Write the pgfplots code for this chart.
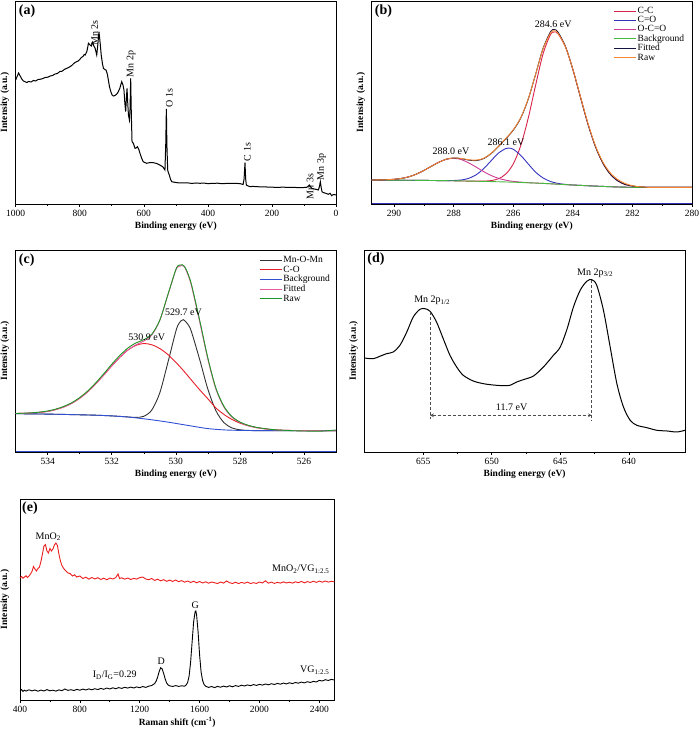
\documentclass[border=0pt]{standalone}
\usepackage{pgfplots}
\pgfplotsset{compat=1.18}
\usepackage{fontspec}
\setmainfont{Liberation Serif}
\definecolor{cCC}{RGB}{215,35,75}
\definecolor{cCO}{RGB}{50,50,190}
\definecolor{cOCO}{RGB}{205,60,150}
\definecolor{cBG}{RGB}{70,185,60}
\definecolor{cFit}{RGB}{20,20,60}
\definecolor{cRaw}{RGB}{245,135,50}
\definecolor{dK}{RGB}{50,50,50}
\definecolor{dR}{RGB}{230,30,40}
\definecolor{dB}{RGB}{50,80,210}
\definecolor{dP}{RGB}{230,90,160}
\definecolor{dG}{RGB}{30,150,40}
\definecolor{eR}{RGB}{235,30,30}
\begin{document}
\begin{tikzpicture}
\useasboundingbox (0pt,0pt) rectangle (700pt,732pt);
\pgfplotsset{
  every axis/.append style={
    scale only axis, anchor=south west,
    axis line style={line width=0.7pt},
    ytick=\empty,
    xtick pos=left,
    tick align=outside,
    major tick length=3pt, minor tick length=2pt,
    every tick/.style={black, line width=0.6pt},
    tick label style={font=\fontsize{9.5}{11}\selectfont},
    label style={font=\bfseries\fontsize{9.5}{11}\selectfont},
    /pgf/number format/assume math mode=true,
    /pgf/number format/1000 sep={},
    xlabel style={at={(axis description cs:0.5,0)}, anchor=center, yshift=-22.5pt},
    ylabel style={at={(axis description cs:-0.009,0.5)}, anchor=south},
    minor tick num=1,
  },
}
% ---------------- (a)
\begin{axis}[at={(15.7pt,528pt)}, width=320.3pt, height=203pt,
  xmin=0, xmax=1000, x dir=reverse, ymin=0, ymax=203,
  xtick={0,200,400,600,800,1000},
  xlabel={Binding energy (eV)}, ylabel={Intensity (a.u.)}]
\addplot[black, line width=1pt] coordinates {
(1000,124)(995,128)(991,131)(986,128)(981,125)(976,123)(971,122.3)(965,121.5)(960,122.5)(952,122)(945,123.5)(938,123)(930,124.5)(922,124.8)(915,125.5)(908,126.5)(900,126.8)(892,128)(885,128.5)(877,130)(870,130.5)(862,132.5)(855,132.8)(847,134.8)(840,135.7)(832,137)(825,138.5)(817,141)(810,142.3)(805,143)(800,144.5)(795,146.5)(790,147.5)(786,149.5)(783,149)(778,152.3)(775,157)(773,160.7)(768,159)(764,158)(760,161.7)(756,158)(752,155.7)(747,149)(744,158)(740,172.3)(736,160)(733,149)(729,140)(726,135.7)(722,134.5)(718,134)(714,130)(710.7,124)(707,117)(703,112.3)(699,109)(695,108)(690,108.5)(685,109.7)(680,112)(675,115.7)(669,122.3)(665,119)(662,114)(659,100)(656.6,92.3)(654,108)(652.4,115.7)(650,100)(648,89)(645,84)(643,95)(641,125.7)(639,90)(636.8,62.3)(632.7,60.7)(627.5,55.7)(624,56)(620.2,57.3)(616,55)(612,50.7)(607,46)(602,42.3)(597,41.5)(591,40.7)(580,41.5)(570,41.3)(560,40.5)(550,39)(540,37)(534,34)(531.5,60)(529.6,95)(528,60)(525.5,34)(523,31)(520.3,29)(517,25)(513,22.3)(505,21.8)(497,21.3)(480,21.0)(465,21.2)(450,20.6)(437,21)(424.5,20.7)(412,20.9)(400,20.4)(385,20.6)(370,20.8)(355,20.3)(340,20.6)(320.5,20.7)(300,20.4)(290,19.5)(287,25)(284.1,41.3)(282,25)(279.9,19)(274,18)(268.5,17.3)(260,17.6)(250,17.4)(235,17.1)(216.4,17)(200,16.8)(180,16.6)(165,16.9)(150,16.5)(130,16.6)(112.4,16.3)(100,16.5)(91.5,16.7)(86,18)(83.3,19)(79,17)(76,15.7)(68,15)(60,14.5)(55.1,14)(52,17)(48.9,22.3)(46,16)(43.7,12.3)(40,11.5)(35,11)(30,10.5)(24.1,9.7)(21,10.3)(18.7,10.7)(16,9.5)(13.5,8.3)(10,9.2)(6,9.5)(0,9)};
\node[rotate=90, font=\fontsize{10}{12}\selectfont] at (axis cs:754,171) {Mn 2s};
\node[rotate=90, font=\fontsize{10}{12}\selectfont] at (axis cs:640,140) {Mn 2p};
\node[rotate=90, font=\fontsize{10}{12}\selectfont] at (axis cs:520,106) {O 1s};
\node[rotate=90, font=\fontsize{10}{12}\selectfont] at (axis cs:277,52) {C 1s};
\node[rotate=90, font=\fontsize{10}{12}\selectfont] at (axis cs:81,17.3) {Mn 3s};
\node[rotate=90, font=\fontsize{10}{12}\selectfont] at (axis cs:45,37) {Mn 3p};
\node[anchor=north west, inner sep=0pt, font=\bfseries\fontsize{14}{16}\selectfont] at (axis description cs:0,1) [xshift=3pt, yshift=-4pt] {(a)};
\end{axis}
% ---------------- (b)
\begin{axis}[at={(371.7pt,528pt)}, width=320.3pt, height=203pt,
  xmin=280, xmax=290.75, x dir=reverse, ymin=0, ymax=203,
  xtick={280,282,284,286,288,290},
  xlabel={Binding energy (eV)}, ylabel={Intensity (a.u.)},
  legend style={at={(0.755,0.975)}, anchor=north west, draw=none, fill=none,
    font=\fontsize{9.5}{11}\selectfont, inner xsep=0pt, inner ysep=0pt, row sep=-0.6pt,
    nodes={inner sep=1pt}},
  legend cell align=left,
  legend image code/.code={\draw[#1, line width=1pt] (0pt,0pt) -- (22pt,0pt);}]
\addplot[cCC, line width=0.9pt, smooth] coordinates {
(290.75,24.0)(289,23.6)(288,23.2)(287.5,22.9)(287.25,22.9)(287.0,22.9)(286.75,23.4)(286.5,25.2)(286.25,29.9)(286.0,40.0)(285.75,58.2)(285.5,85.4)(285.25,118.6)(285.0,150.0)(284.75,169.4)(284.62,172.0)(284.5,170.3)(284.25,157.3)(284.0,134.7)(283.75,107.5)(283.5,80.7)(283.25,58.1)(283.0,41.3)(282.75,30.1)(282.5,23.3)(282.25,19.6)(282.0,17.9)(281.75,17.1)(281.5,16.7)(281,16.6)(280,16.6)};
\addlegendentry{C-C}
\addplot[cCO, line width=0.9pt, smooth] coordinates {
(290.75,24.0)(289,23.6)(288.5,23.4)(288.25,23.4)(288.0,23.5)(287.75,24.0)(287.5,25.6)(287.25,29.1)(287.0,35.1)(286.75,43.0)(286.5,50.8)(286.25,55.5)(286.15,55.9)(286.0,54.8)(285.75,48.7)(285.5,40.2)(285.25,31.9)(285.0,26.1)(284.75,22.5)(284.5,20.6)(284.25,19.6)(284.0,19.0)(283,17.6)(282,16.7)(280,16.6)};
\addlegendentry{C=O}
\addplot[cOCO, line width=0.9pt, smooth] coordinates {
(290.75,24.05)(290.5,24.1)(290.25,24.3)(290.0,24.7)(289.75,25.6)(289.5,27.2)(289.25,29.9)(289.0,33.5)(288.75,37.7)(288.5,41.7)(288.25,44.7)(288.0,45.7)(287.75,44.5)(287.5,41.2)(287.25,37.0)(287.0,32.5)(286.75,28.6)(286.5,25.7)(286.25,23.8)(286.0,22.6)(285.75,21.9)(285.5,21.3)(285.0,20.6)(284,19.0)(283,17.6)(282,16.7)(280,16.6)};
\addlegendentry{O-C=O}
\addplot[cBG, line width=0.9pt, smooth] coordinates {
(290.75,24.0)(290,23.9)(289,23.6)(288,23.2)(287,22.6)(286,21.8)(285,20.6)(284.5,19.8)(284,19.0)(283.5,18.2)(283,17.6)(282.5,17.0)(282,16.7)(281,16.6)(280,16.6)};
\addlegendentry{Background}
\addplot[cFit, line width=0.9pt, smooth] coordinates {
(290.75,24.0)(290.5,24.1)(290.25,24.3)(290.0,24.7)(289.75,25.6)(289.5,27.2)(289.25,29.9)(289.0,33.5)(288.75,37.7)(288.5,41.7)(288.25,44.8)(288.0,46.0)(287.75,45.4)(287.5,43.9)(287.25,43.4)(287.0,45.3)(286.75,50.2)(286.5,57.3)(286.25,65.2)(286.0,73.8)(285.75,85.8)(285.5,104.5)(285.25,129.6)(285.0,155.5)(284.75,172.2)(284.62,174.5)(284.5,172.0)(284.25,157.8)(284.0,134.7)(283.75,107.5)(283.5,80.7)(283.25,58.1)(283.0,41.3)(282.75,30.1)(282.5,23.3)(282.25,19.6)(282.0,17.9)(281.75,17.1)(281.5,16.7)(281.0,16.6)(280.5,16.6)(280.0,16.6)};
\addlegendentry{Fitted}
\addplot[cRaw, line width=0.9pt, smooth] coordinates {
(290.75,24.0)(290.5,24.1)(290.25,24.3)(290.0,24.7)(289.75,25.6)(289.5,27.2)(289.25,29.9)(289.0,33.5)(288.75,37.7)(288.5,41.7)(288.25,44.8)(288.0,46.0)(287.75,45.6)(287.5,44.3)(287.25,43.9)(287.0,45.6)(286.75,50.5)(286.5,57.6)(286.25,65.6)(286.0,74.2)(285.75,86.2)(285.5,104.8)(285.25,129.6)(285.0,155.0)(284.75,171.0)(284.62,173.2)(284.5,170.8)(284.25,157.3)(284.0,134.9)(283.75,108.0)(283.5,81.5)(283.25,59.0)(283.0,42.4)(282.75,31.4)(282.5,24.6)(282.25,20.6)(282.0,18.3)(281.75,17.2)(281.5,16.7)(281.0,16.6)(280.5,16.6)(280.0,16.6)};
\addlegendentry{Raw}
\addplot[cCO, line width=0.8pt, forget plot] coordinates {(290.75,0.3)(280,0.3)};
\node[font=\fontsize{10}{12}\selectfont] at (axis cs:284.66,180) {284.6 eV};
\node[font=\fontsize{10}{12}\selectfont] at (axis cs:286.24,61.3) {286.1 eV};
\node[font=\fontsize{10}{12}\selectfont] at (axis cs:288.09,53) {288.0 eV};
\node[anchor=north west, inner sep=0pt, font=\bfseries\fontsize{14}{16}\selectfont] at (axis description cs:0,1) [xshift=3pt, yshift=-4pt] {(b)};
\end{axis}
% ---------------- (c)
\begin{axis}[at={(15.7pt,280pt)}, width=320.3pt, height=202pt,
  xmin=525, xmax=535, x dir=reverse, ymin=0, ymax=202,
  xtick={526,528,530,532,534},
  xlabel={Binding energy (eV)}, ylabel={Intensity (a.u.)},
  legend style={at={(0.76,0.975)}, anchor=north west, draw=none, fill=none,
    font=\fontsize{9.5}{11}\selectfont, inner xsep=0pt, inner ysep=0pt, row sep=-0.3pt,
    nodes={inner sep=1pt}},
  legend cell align=left,
  legend image code/.code={\draw[#1, line width=1pt] (0pt,0pt) -- (22pt,0pt);}]
\addplot[dK, line width=0.9pt, smooth] coordinates {
(535,38.3)(534,37.9)(533,37.2)(532.5,36.8)(532,36.1)(531.75,35.6)(531.5,35.05)(531.25,34.6)(531.0,35.7)(530.75,42.0)(530.5,59.3)(530.25,89.3)(530.0,120.7)(529.9,128.7)(529.77,132.3)(529.6,126.6)(529.5,119.0)(529.25,91.8)(529.0,62.8)(528.75,41.4)(528.5,29.4)(528.25,24.1)(528.0,22.2)(527.75,21.6)(527.5,21.4)(527,21.3)(525,21.3)};
\addlegendentry{Mn-O-Mn}
\addplot[dR, line width=0.9pt, smooth] coordinates {
(535.0,38.5)(534.75,38.65)(534.5,39.0)(534.25,39.6)(534.0,40.6)(533.75,42.4)(533.5,45.0)(533.25,48.7)(533.0,53.8)(532.75,60.3)(532.5,68.2)(532.25,77.0)(532.0,86.1)(531.75,94.7)(531.5,101.9)(531.25,106.6)(531.0,108.5)(530.75,107.2)(530.5,103.4)(530.25,97.5)(530.0,89.7)(529.75,80.9)(529.5,71.4)(529.25,62.0)(529.0,53.2)(528.75,44.1)(528.5,37.6)(528.25,32.6)(528.0,28.9)(527.75,26.3)(527.5,24.5)(527.25,23.25)(527.0,22.4)(526.75,21.9)(526.5,21.6)(526.0,21.4)(525,21.3)};
\addlegendentry{C-O}
\addplot[dB, line width=0.9pt, smooth] coordinates {
(535,38.3)(534.5,38.1)(534,37.9)(533.5,37.6)(533,37.2)(532.5,36.8)(532,36.1)(531.5,35.0)(531,33.2)(530.5,31.1)(530,28.6)(529.5,25.9)(529,23.4)(528.5,22.1)(528,21.6)(527.5,21.4)(527,21.3)(526,21.3)(525,21.3)};
\addlegendentry{Background}
\addplot[dP, line width=0.9pt, smooth] coordinates {
(535,38.5)(534.75,38.7)(534.5,39.0)(534.25,39.6)(534,40.6)(533.75,42.4)(533.5,45.0)(533.25,48.7)(533,53.8)(532.75,60.3)(532.5,68.2)(532.25,77.0)(532,86.1)(531.75,94.7)(531.5,101.9)(531.25,107.1)(531,111.0)(530.75,117.0)(530.5,131.6)(530.25,156.9)(530,181.8)(529.9,185.5)(529.75,185.9)(529.6,175.3)(529.5,164.5)(529.25,129.2)(529,92.6)(528.75,62.9)(528.5,44.9)(528.25,34.9)(528,29.5)(527.75,26.4)(527.5,24.5)(527.25,23.3)(527,22.4)(526.75,21.9)(526.5,21.6)(526.25,21.45)(526,21.4)(525.5,21.3)(525,21.3)};
\addlegendentry{Fitted}
\addplot[dG, line width=0.9pt, smooth] coordinates {
(535,38.5)(534.75,38.8)(534.5,39.2)(534.25,39.9)(534,41.0)(533.75,42.9)(533.5,45.6)(533.25,49.3)(533,54.5)(532.75,61.1)(532.5,69.2)(532.25,78.3)(532,87.8)(531.75,96.5)(531.5,103.9)(531.25,109.0)(531,112.3)(530.75,117.8)(530.5,132.0)(530.25,157.2)(530,182.5)(529.9,186.8)(529.8,187.3)(529.7,184.0)(529.6,176.5)(529.5,166.0)(529.25,131.0)(529,94.0)(528.75,64.0)(528.5,45.8)(528.25,35.5)(528,30.0)(527.75,26.8)(527.5,24.8)(527.25,23.5)(527,22.5)(526.75,21.9)(526.5,21.5)(526.25,21.2)(526,21.0)(525.5,20.8)(525.25,21.3)(525,22.0)};
\addlegendentry{Raw}
\addplot[dB, line width=0.8pt, forget plot] coordinates {(535,0.3)(525,0.3)};
\node[font=\fontsize{10}{12}\selectfont] at (axis cs:529.76,140) {529.7 eV};
\node[font=\fontsize{10}{12}\selectfont] at (axis cs:530.91,114.3) {530.9 eV};
\node[anchor=north west, inner sep=0pt, font=\bfseries\fontsize{14}{16}\selectfont] at (axis description cs:0,1) [xshift=3pt, yshift=-4pt] {(c)};
\end{axis}
% ---------------- (d)
\begin{axis}[at={(364.3pt,280pt)}, width=320.7pt, height=202pt,
  xmin=635.9, xmax=659.3, x dir=reverse, ymin=0, ymax=202,
  xtick={640,645,650,655},
  xlabel={Binding energy (eV)}, ylabel={Intensity (a.u.)}]
\addplot[black, line width=1pt, smooth] coordinates {
(659.3,94)(658.65,93.3)(658.17,95.7)(657.68,98.3)(657.19,100)(656.7,106.7)(656.2,120)(655.73,135)(655.24,142.7)(654.88,143.3)(654.5,140.7)(654.03,130)(653.54,113.3)(653.05,96.7)(652.56,85)(652.08,76.7)(651.35,71)(650.6,68.3)(649.9,67)(649.16,66.3)(648.67,66.7)(648.18,70)(647.7,72.3)(646.96,76)(646.23,85)(645.5,96.7)(645.0,105)(644.5,123.3)(644.04,145)(643.55,161.7)(643.07,170.7)(642.7,172.3)(642.34,166.7)(641.85,141.7)(641.36,105)(640.87,68.3)(640.39,45)(639.9,31.7)(639.41,26.7)(638.68,24.3)(637.95,21.7)(637.2,21)(636.5,20)(635.9,21.7)};
\draw[densely dashed, line width=0.8pt, black!70] (axis cs:654.5,140) -- (axis cs:654.5,33.3);
\draw[densely dashed, line width=0.8pt, black!70] (axis cs:642.7,171.7) -- (axis cs:642.7,31);
\draw[densely dashed, line width=0.7pt, black!70, <->, >=stealth] (axis cs:654.5,36.7) -- (axis cs:642.7,36.7);
\node[font=\fontsize{10}{12}\selectfont] at (axis cs:648.55,45) {11.7 eV};
\node[font=\fontsize{10}{12}\selectfont] at (axis cs:654.34,151.7) {Mn 2p\textsubscript{1/2}};
\node[font=\fontsize{10}{12}\selectfont] at (axis cs:642.46,179) {Mn 2p\textsubscript{3/2}};
\node[anchor=north west, inner sep=0pt, font=\bfseries\fontsize{14}{16}\selectfont] at (axis description cs:0,1) [xshift=3pt, yshift=-3pt] {(d)};
\end{axis}
% ---------------- (e)
\begin{axis}[at={(20pt,32pt)}, width=314.3pt, height=201pt,
  xmin=400, xmax=2500, ymin=0, ymax=201,
  xtick={400,800,1200,1600,2000,2400},
  xlabel={Raman shift (cm\textsuperscript{-1})}, ylabel={Intensity (a.u.)},
  ylabel style={at={(axis description cs:-0.023,0.5)}, anchor=south}]
\addplot[eR, line width=0.9pt] coordinates {
(400,122.0)(410,123.5)(420,121.8)(430,123.0)(440,124.2)(450,122.5)(460,124.0)(470,126.0)(480,128.5)(490,133.5)(500,131.0)(510,129.0)(520,131.5)(530,133.0)(540,138.5)(550,146.0)(560,154.0)(570,155.5)(580,149.0)(590,147.0)(600,151.5)(610,149.0)(620,151.0)(630,155.0)(640,157.0)(650,154.5)(660,146.0)(670,139.0)(680,134.5)(690,132.0)(700,130.0)(710,128.5)(720,127.0)(735,126.5)(750,124.0)(765,125.2)(780,123.0)(800,124.0)(820,121.5)(840,122.8)(860,120.9)(880,122.5)(900,121.0)(920,122.3)(940,120.5)(960,121.8)(980,120.2)(1000,122.0)(1020,121.0)(1040,122.5)(1055,126.0)(1065,121.5)(1080,122.2)(1100,120.8)(1120,122.0)(1140,120.5)(1160,121.6)(1180,120.9)(1200,122.4)(1220,123.0)(1240,121.0)(1260,120.3)(1280,121.5)(1300,119.6)(1320,120.8)(1340,119.2)(1360,120.3)(1380,118.7)(1400,119.9)(1420,118.5)(1440,120.0)(1460,118.3)(1480,119.4)(1500,117.8)(1520,119.0)(1540,117.5)(1560,118.8)(1580,117.2)(1600,118.5)(1620,117.0)(1640,118.2)(1660,116.8)(1680,118.0)(1700,117.2)(1720,116.5)(1740,118.0)(1760,116.9)(1780,119.0)(1800,117.3)(1820,116.5)(1840,117.8)(1860,116.4)(1880,117.6)(1900,116.7)(1920,117.9)(1940,116.5)(1960,117.3)(1980,116.6)(2000,118.0)(2020,117.0)(2040,119.2)(2060,116.8)(2080,117.9)(2100,116.6)(2120,117.7)(2140,116.9)(2160,118.1)(2180,117.0)(2200,117.8)(2220,116.9)(2240,118.2)(2260,117.3)(2280,118.6)(2300,117.1)(2320,118.4)(2340,117.5)(2360,118.8)(2380,117.6)(2400,118.9)(2420,117.8)(2440,119.0)(2460,117.9)(2480,118.7)(2500,118.2)};
\addplot[black, line width=0.9pt] coordinates {
(400,9.0)(410,10.5)(420,8.6)(430,9.8)(440,8.9)(460,10.2)(480,9.1)(500,10.0)(520,8.8)(540,9.9)(560,9.0)(580,10.4)(600,9.2)(620,9.8)(640,8.9)(660,10.1)(680,9.3)(700,11.0)(720,9.6)(740,10.3)(760,9.5)(780,10.6)(800,9.8)(820,10.9)(840,10.0)(860,11.1)(880,10.2)(900,11.3)(920,10.4)(940,11.6)(960,10.7)(980,12.0)(1000,11.0)(1020,12.2)(1040,11.3)(1060,12.4)(1080,11.6)(1100,12.7)(1120,11.9)(1140,12.9)(1160,12.0)(1180,13.1)(1200,12.3)(1220,13.5)(1240,12.6)(1260,13.8)(1280,14.5)(1300,16.5)(1310,19.0)(1320,23.0)(1330,28.5)(1340,32.3)(1350,31.0)(1360,26.5)(1370,21.0)(1380,17.0)(1390,15.0)(1400,14.2)(1420,13.5)(1440,14.4)(1460,13.6)(1480,14.2)(1500,13.8)(1510,15.0)(1520,17.5)(1530,24.0)(1540,38.0)(1550,58.0)(1560,78.0)(1570,88.3)(1575,89.0)(1580,85.0)(1590,68.0)(1600,45.0)(1610,28.0)(1620,19.5)(1630,15.5)(1640,13.8)(1660,12.6)(1680,13.5)(1700,12.4)(1720,13.6)(1740,12.8)(1760,13.9)(1780,13.0)(1800,14.2)(1820,13.2)(1840,14.4)(1860,13.6)(1880,14.8)(1900,14.0)(1920,15.1)(1940,14.3)(1960,15.4)(1980,14.6)(2000,15.6)(2020,14.9)(2040,16.0)(2060,15.2)(2080,16.3)(2100,15.5)(2120,16.6)(2140,15.8)(2160,16.9)(2180,16.1)(2200,17.2)(2220,16.4)(2240,17.5)(2260,16.8)(2280,17.9)(2300,17.1)(2320,18.3)(2340,17.5)(2360,18.6)(2380,18.0)(2400,19.6)(2420,19.0)(2440,20.3)(2460,19.5)(2480,20.6)(2500,20.0)};
\node[font=\fontsize{10}{12}\selectfont] at (axis cs:589,163.3) {MnO\textsubscript{2}};
\node[font=\fontsize{10}{12}\selectfont, anchor=east] at (axis cs:2490,130.7) {MnO\textsubscript{2}/VG\textsubscript{1:2.5}};
\node[font=\fontsize{10}{12}\selectfont, anchor=east] at (axis cs:2490,30) {VG\textsubscript{1:2.5}};
\node[font=\fontsize{10}{12}\selectfont] at (axis cs:1571,95) {G};
\node[font=\fontsize{10}{12}\selectfont] at (axis cs:1344,38.3) {D};
\node[font=\fontsize{10}{12}\selectfont] at (axis cs:1033,25) {I\textsubscript{D}/I\textsubscript{G}=0.29};
\node[anchor=north west, inner sep=0pt, font=\bfseries\fontsize{14}{16}\selectfont] at (axis description cs:0,1) [xshift=2pt, yshift=-3pt] {(e)};
\end{axis}
\end{tikzpicture}
\end{document}
